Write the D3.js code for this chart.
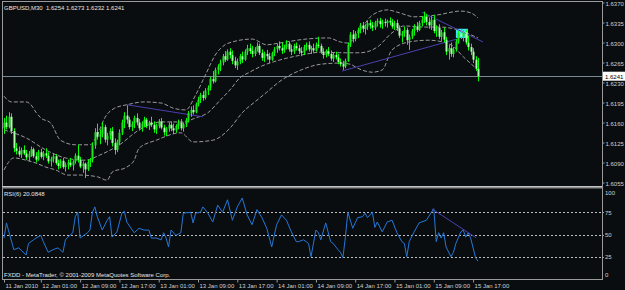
<!DOCTYPE html>
<html>
<head>
<meta charset="utf-8">
<script src="https://cdn.jsdelivr.net/npm/d3@7"></script>
<style>
  html, body { margin: 0; padding: 0; background: #0a0d10; }
  svg { display: block; font-family: "Liberation Sans", Arial, sans-serif; }
</style>
</head>
<body>
<svg id="chart" width="625" height="290"></svg>
<script>
// --- chart data ---
const symbolTitle = 'GBPUSD,M30  1.6254 1.6273 1.6232 1.6241';
const rsiTitle = 'RSI(6) 20.0848';
const footerText = 'FXDD - MetaTrader, \u00a9 2001-2009 MetaQuotes Software Corp.';
const firstBarTime = '2010-01-11 17:30';
const lastPrice = 1.6241;

// [open, high, low, close] for each 30 minute bar
const ohlc = [
  [1.6150,1.6168,1.6140,1.6160],[1.6160,1.6172,1.6148,1.6152],[1.6152,1.6178,1.6150,1.6170],[1.6170,1.6176,1.6140,1.6145],
  [1.6145,1.6150,1.6108,1.6115],[1.6115,1.6124,1.6104,1.6110],[1.6110,1.6118,1.6100,1.6104],[1.6104,1.6116,1.6098,1.6112],
  [1.6112,1.6120,1.6103,1.6106],[1.6106,1.6112,1.6094,1.6099],[1.6099,1.6110,1.6092,1.6105],[1.6105,1.6118,1.6100,1.6113],
  [1.6113,1.6116,1.6098,1.6101],[1.6101,1.6108,1.6090,1.6095],[1.6095,1.6112,1.6093,1.6108],[1.6108,1.6114,1.6097,1.6100],
  [1.6100,1.6110,1.6094,1.6106],[1.6106,1.6115,1.6098,1.6102],[1.6102,1.6108,1.6088,1.6092],[1.6092,1.6100,1.6083,1.6096],
  [1.6096,1.6106,1.6090,1.6101],[1.6101,1.6105,1.6086,1.6089],[1.6089,1.6095,1.6078,1.6084],[1.6084,1.6096,1.6080,1.6093],
  [1.6093,1.6098,1.6079,1.6082],[1.6082,1.6090,1.6074,1.6086],[1.6086,1.6095,1.6078,1.6090],[1.6090,1.6098,1.6082,1.6085],
  [1.6085,1.6094,1.6076,1.6092],[1.6092,1.6106,1.6088,1.6102],[1.6102,1.6121,1.6090,1.6095],[1.6095,1.6100,1.6080,1.6083],
  [1.6083,1.6092,1.6072,1.6088],[1.6088,1.6090,1.6063,1.6078],[1.6078,1.6095,1.6075,1.6091],[1.6091,1.6098,1.6082,1.6094],
  [1.6094,1.6125,1.6090,1.6120],[1.6120,1.6150,1.6114,1.6143],[1.6143,1.6158,1.6130,1.6135],[1.6135,1.6148,1.6122,1.6140],
  [1.6140,1.6160,1.6134,1.6152],[1.6152,1.6156,1.6125,1.6130],[1.6130,1.6142,1.6120,1.6137],[1.6137,1.6150,1.6130,1.6145],
  [1.6145,1.6152,1.6118,1.6124],[1.6124,1.6132,1.6104,1.6112],[1.6112,1.6130,1.6108,1.6126],[1.6126,1.6148,1.6120,1.6142],
  [1.6142,1.6165,1.6138,1.6160],[1.6160,1.6178,1.6150,1.6172],[1.6172,1.6190,1.6158,1.6165],[1.6165,1.6170,1.6148,1.6152],
  [1.6152,1.6162,1.6145,1.6158],[1.6158,1.6172,1.6150,1.6168],[1.6168,1.6176,1.6155,1.6160],[1.6160,1.6166,1.6146,1.6150],
  [1.6150,1.6162,1.6144,1.6158],[1.6158,1.6170,1.6152,1.6165],[1.6165,1.6168,1.6150,1.6154],[1.6154,1.6163,1.6147,1.6160],
  [1.6160,1.6170,1.6152,1.6156],[1.6156,1.6162,1.6142,1.6148],[1.6148,1.6158,1.6140,1.6154],[1.6154,1.6166,1.6150,1.6162],
  [1.6162,1.6168,1.6148,1.6151],[1.6151,1.6156,1.6137,1.6143],[1.6143,1.6152,1.6136,1.6149],[1.6149,1.6160,1.6144,1.6156],
  [1.6156,1.6162,1.6145,1.6150],[1.6150,1.6158,1.6140,1.6146],[1.6146,1.6157,1.6142,1.6154],[1.6154,1.6165,1.6148,1.6160],
  [1.6160,1.6166,1.6146,1.6150],[1.6150,1.6160,1.6144,1.6157],[1.6157,1.6168,1.6152,1.6164],[1.6164,1.6180,1.6160,1.6176],
  [1.6176,1.6188,1.6170,1.6182],[1.6182,1.6190,1.6174,1.6178],[1.6178,1.6195,1.6176,1.6192],[1.6192,1.6205,1.6188,1.6200],
  [1.6200,1.6212,1.6194,1.6208],[1.6208,1.6215,1.6198,1.6203],[1.6203,1.6220,1.6200,1.6216],[1.6216,1.6225,1.6208,1.6221],
  [1.6221,1.6240,1.6216,1.6236],[1.6236,1.6250,1.6228,1.6232],[1.6232,1.6256,1.6230,1.6252],[1.6252,1.6262,1.6244,1.6258],
  [1.6258,1.6270,1.6250,1.6265],[1.6265,1.6280,1.6260,1.6276],[1.6276,1.6285,1.6266,1.6270],[1.6270,1.6288,1.6268,1.6284],
  [1.6284,1.6290,1.6272,1.6278],[1.6278,1.6286,1.6262,1.6268],[1.6268,1.6275,1.6255,1.6260],[1.6260,1.6272,1.6252,1.6266],
  [1.6266,1.6280,1.6262,1.6276],[1.6276,1.6284,1.6264,1.6270],[1.6270,1.6288,1.6268,1.6284],[1.6284,1.6296,1.6278,1.6290],
  [1.6290,1.6298,1.6280,1.6285],[1.6285,1.6294,1.6274,1.6280],[1.6280,1.6292,1.6276,1.6288],[1.6288,1.6300,1.6284,1.6294],
  [1.6294,1.6298,1.6278,1.6282],[1.6282,1.6288,1.6268,1.6273],[1.6273,1.6284,1.6266,1.6280],[1.6280,1.6287,1.6270,1.6276],
  [1.6276,1.6282,1.6264,1.6270],[1.6270,1.6284,1.6268,1.6281],[1.6281,1.6292,1.6276,1.6288],[1.6288,1.6298,1.6282,1.6294],
  [1.6294,1.6302,1.6286,1.6290],[1.6290,1.6300,1.6280,1.6286],[1.6286,1.6296,1.6282,1.6292],[1.6292,1.6304,1.6288,1.6298],
  [1.6298,1.6302,1.6284,1.6288],[1.6288,1.6296,1.6278,1.6284],[1.6284,1.6298,1.6280,1.6294],[1.6294,1.6300,1.6286,1.6290],
  [1.6290,1.6296,1.6280,1.6285],[1.6285,1.6292,1.6276,1.6282],[1.6282,1.6296,1.6278,1.6292],[1.6292,1.6300,1.6286,1.6296],
  [1.6296,1.6302,1.6284,1.6288],[1.6288,1.6294,1.6280,1.6290],[1.6290,1.6298,1.6282,1.6286],[1.6286,1.6300,1.6284,1.6296],
  [1.6296,1.6310,1.6290,1.6294],[1.6294,1.6298,1.6280,1.6284],[1.6284,1.6290,1.6272,1.6278],[1.6278,1.6288,1.6274,1.6285],
  [1.6285,1.6292,1.6276,1.6280],[1.6280,1.6286,1.6268,1.6272],[1.6272,1.6282,1.6266,1.6278],[1.6278,1.6284,1.6270,1.6274],
  [1.6274,1.6280,1.6262,1.6266],[1.6266,1.6272,1.6258,1.6262],[1.6262,1.6268,1.6252,1.6258],[1.6258,1.6272,1.6255,1.6268],
  [1.6268,1.6300,1.6266,1.6296],[1.6296,1.6318,1.6292,1.6314],[1.6314,1.6322,1.6300,1.6306],[1.6306,1.6320,1.6302,1.6316],
  [1.6316,1.6326,1.6308,1.6322],[1.6322,1.6334,1.6316,1.6330],[1.6330,1.6336,1.6318,1.6324],[1.6324,1.6332,1.6314,1.6328],
  [1.6328,1.6338,1.6322,1.6334],[1.6334,1.6340,1.6324,1.6330],[1.6330,1.6336,1.6320,1.6326],[1.6326,1.6338,1.6322,1.6335],
  [1.6335,1.6342,1.6328,1.6338],[1.6338,1.6343,1.6326,1.6332],[1.6332,1.6340,1.6324,1.6336],[1.6336,1.6342,1.6328,1.6334],
  [1.6334,1.6340,1.6326,1.6338],[1.6338,1.6344,1.6330,1.6335],[1.6335,1.6341,1.6324,1.6328],[1.6328,1.6338,1.6322,1.6334],
  [1.6334,1.6340,1.6320,1.6325],[1.6325,1.6330,1.6308,1.6312],[1.6312,1.6320,1.6300,1.6316],[1.6316,1.6328,1.6310,1.6322],
  [1.6322,1.6326,1.6296,1.6304],[1.6304,1.6314,1.6287,1.6310],[1.6310,1.6324,1.6306,1.6320],[1.6320,1.6332,1.6312,1.6328],
  [1.6328,1.6336,1.6318,1.6322],[1.6322,1.6338,1.6320,1.6334],[1.6334,1.6346,1.6328,1.6340],[1.6340,1.6354,1.6334,1.6345],
  [1.6345,1.6350,1.6330,1.6336],[1.6336,1.6344,1.6324,1.6330],[1.6330,1.6346,1.6322,1.6340],[1.6340,1.6348,1.6316,1.6320],
  [1.6320,1.6330,1.6310,1.6326],[1.6326,1.6332,1.6306,1.6310],[1.6310,1.6322,1.6302,1.6318],[1.6318,1.6326,1.6300,1.6305],
  [1.6305,1.6310,1.6278,1.6284],[1.6284,1.6296,1.6270,1.6290],[1.6290,1.6300,1.6275,1.6280],[1.6280,1.6292,1.6274,1.6288],
  [1.6288,1.6306,1.6284,1.6302],[1.6302,1.6320,1.6298,1.6316],[1.6316,1.6324,1.6306,1.6310],[1.6310,1.6322,1.6302,1.6318],
  [1.6318,1.6322,1.6296,1.6300],[1.6300,1.6312,1.6286,1.6292],[1.6292,1.6298,1.6278,1.6284],[1.6284,1.6290,1.6264,1.6270],
  [1.6270,1.6276,1.6250,1.6254],[1.6254,1.6273,1.6232,1.6241]
];

// Bollinger bands, [bar index, price]
const bbUpper = [
  [0,1.6206],[3,1.6196],[9,1.6196],[11,1.6191],[13,1.6178],[15,1.6168],[19,1.6159],[23,1.6129],[29,1.6121],
  [35,1.6121],[38,1.6138],[41,1.6168],[45,1.6185],[50,1.6191],[57,1.6196],[64,1.6194],[69,1.6185],[74,1.6182],
  [78,1.6208],[82,1.6243],[86,1.6278],[90,1.6296],[93,1.6301],[101,1.6306],[107,1.6296],[112,1.6299],[123,1.6306],
  [132,1.6308],[137,1.6301],[140,1.6299],[145,1.6322],[150,1.6348],[156,1.6357],[161,1.6352],[167,1.6345],
  [176,1.6348],[186,1.6355],[190,1.6352],[193,1.6343]
];
const bbMiddle = [
  [0,1.6147],[9,1.6133],[17,1.6112],[25,1.6098],[33,1.6094],[39,1.6103],[47,1.6121],[55,1.6147],[64,1.6161],
  [73,1.6161],[78,1.6168],[83,1.6177],[88,1.6199],[92,1.6217],[96,1.6238],[100,1.6248],[104,1.6257],[112,1.6269],
  [121,1.6278],[129,1.6283],[139,1.6282],[145,1.6282],[152,1.6292],[158,1.6317],[163,1.6329],[171,1.6327],
  [178,1.6327],[182,1.6325],[193,1.6308]
];
const bbLower = [
  [0,1.6077],[4,1.6098],[9,1.6094],[13,1.6089],[17,1.6082],[21,1.6077],[26,1.6068],[31,1.6068],[38,1.6065],
  [42,1.6059],[44,1.6073],[50,1.6082],[53,1.6094],[55,1.6115],[62,1.6129],[72,1.6142],[77,1.6126],[85,1.6129],
  [92,1.6150],[97,1.6177],[103,1.6199],[107,1.6213],[112,1.6231],[121,1.6252],[129,1.6262],[137,1.6264],
  [141,1.6262],[144,1.6255],[150,1.6248],[154,1.6252],[158,1.6287],[165,1.6301],[173,1.6304],[182,1.6296],
  [187,1.6275],[193,1.6252]
];

// RSI(6), [bar index, value]
const rsiPoints = [
  [0,46],[1,63],[4,33],[6,35],[9,27],[10,40],[12,44],[13,46],[15,49],[16,42],[18,30],[20,33],[22,35],[24,30],
  [25,44],[26,47],[28,52],[29,70],[30,75],[31,46],[34,52],[35,55],[36,75],[37,81],[38,70],[40,55],[42,66],[43,70],
  [44,47],[46,53],[48,74],[49,76],[50,64],[53,52],[55,57],[57,55],[59,55],[60,46],[62,46],[64,44],[65,52],[66,46],
  [67,36],[68,55],[70,49],[72,52],[73,74],[76,75],[77,63],[78,74],[80,75],[81,81],[83,74],[85,64],[87,83],[89,75],
  [91,89],[93,66],[95,81],[97,91],[99,72],[101,61],[103,78],[105,69],[107,57],[109,36],[111,61],[113,72],[115,66],
  [117,53],[119,42],[120,42],[122,44],[124,40],[125,25],[127,55],[128,52],[129,44],[131,63],[133,42],[134,40],
  [136,33],[137,30],[138,24],[139,47],[140,75],[142,57],[144,69],[146,70],[147,74],[148,69],[150,75],[151,58],
  [152,64],[154,53],[156,64],[158,66],[160,52],[162,42],[163,40],[164,25],[165,42],[167,53],[169,63],[172,66],
  [174,75],[175,79],[176,42],[177,52],[178,46],[179,52],[180,36],[182,25],[183,30],[184,40],[186,53],[187,55],
  [188,47],[189,52],[190,46],[192,24],[193,20.08]
];

// hand-drawn objects: trend lines [[bar, price], [bar, price]], rectangle
const trendLines = [
  [[137.6, 1.6250], [184.4, 1.6306]],
  [[170.2, 1.6353], [195.0, 1.6301]],
  [[50.1, 1.6191], [81.0, 1.6170]]
];
const rsiTrendLine = [[174.3, 78.7], [192.2, 46.4]];
const cyanBox = { from: 184.0, to: 188.9, top: 1.6324, bottom: 1.6308 };

const priceTicks = [1.6370, 1.6335, 1.6300, 1.6265, 1.6230, 1.6195, 1.6160, 1.6125, 1.6090, 1.6055];
const rsiLevels = [75, 50, 25];
const rsiTicks = [100, 75, 50, 25, 0];
const tickTimes = ['2010-01-11 17:30', '2010-01-12 01:00', '2010-01-12 09:00', '2010-01-12 17:00',
  '2010-01-13 01:00', '2010-01-13 09:00', '2010-01-13 17:00', '2010-01-14 01:00', '2010-01-14 09:00',
  '2010-01-14 17:00', '2010-01-15 01:00', '2010-01-15 09:00', '2010-01-15 17:00'];
const tickLabels = ['11 Jan 2010', '12 Jan 01:00', '12 Jan 09:00', '12 Jan 17:00', '13 Jan 01:00',
  '13 Jan 09:00', '13 Jan 17:00', '14 Jan 01:00', '14 Jan 09:00', '14 Jan 17:00', '15 Jan 01:00',
  '15 Jan 09:00', '15 Jan 17:00'];

// --- layout ---
const left = 3, right = 602;
const mainTop = 2, mainBottom = 186;
const rsiTop = 189, rsiBottom = 279;
const fontSize = '6px';
const textColor = '#cfcfcf';
const frameColor = '#9a9a9a';

const svg = d3.select('#chart');
svg.append('rect').attr('width', 625).attr('height', 290).attr('fill', '#0a0d10');

const parseTime = d3.timeParse('%Y-%m-%d %H:%M');
const t0 = parseTime(firstBarTime);
const barTime = i => new Date(t0.getTime() + i * 30 * 60000);

const x = d3.scaleTime()
    .domain([barTime(0), barTime(ohlc.length - 1)])
    .range([4, 478]);
const xb = i => x(barTime(i));

const y = d3.scaleLinear().domain([1.6055, 1.6370]).range([182.5, 2.5]);
const yr = d3.scaleLinear().domain([0, 100]).range([279, 190]);

// clip paths for the two panes
const defs = svg.append('defs');
defs.append('clipPath').attr('id', 'clip-main')
  .append('rect').attr('x', left).attr('y', mainTop).attr('width', right - left).attr('height', mainBottom - mainTop);
defs.append('clipPath').attr('id', 'clip-rsi')
  .append('rect').attr('x', left).attr('y', rsiTop).attr('width', right - left).attr('height', rsiBottom - rsiTop);

const main = svg.append('g').attr('clip-path', 'url(#clip-main)');
const rsiPane = svg.append('g').attr('clip-path', 'url(#clip-rsi)');

// current price line
main.append('line')
    .attr('x1', left).attr('x2', right)
    .attr('y1', Math.round(y(lastPrice)) + 0.5).attr('y2', Math.round(y(lastPrice)) + 0.5)
    .attr('stroke', '#7b8794').attr('stroke-width', 1);

// cyan rectangle object
main.append('rect')
    .attr('x', xb(cyanBox.from))
    .attr('y', y(cyanBox.top))
    .attr('width', xb(cyanBox.to) - xb(cyanBox.from))
    .attr('height', y(cyanBox.bottom) - y(cyanBox.top))
    .attr('fill', '#3ee6f2');

// Bollinger bands
const bandLine = d3.line().x(d => xb(d[0])).y(d => y(d[1])).curve(d3.curveMonotoneX);
[bbUpper, bbMiddle, bbLower].forEach(band => {
  main.append('path')
      .attr('d', bandLine(band))
      .attr('fill', 'none')
      .attr('stroke', '#a8a8a8')
      .attr('stroke-width', 0.9)
      .attr('stroke-dasharray', '4,2');
});

// trend lines
trendLines.forEach(tl => {
  main.append('line')
      .attr('x1', xb(tl[0][0])).attr('y1', y(tl[0][1]))
      .attr('x2', xb(tl[1][0])).attr('y2', y(tl[1][1]))
      .attr('stroke', '#4a3fae').attr('stroke-width', 1);
});

// candles
const candles = main.append('g').selectAll('g')
    .data(ohlc)
    .enter()
    .append('g');

candles.append('line')
    .attr('x1', (d, i) => Math.round(xb(i)) + 0.5)
    .attr('x2', (d, i) => Math.round(xb(i)) + 0.5)
    .attr('y1', d => y(d[1]))
    .attr('y2', d => y(d[2]))
    .attr('stroke', '#00ff00')
    .attr('stroke-width', 1);

candles.append('rect')
    .attr('x', (d, i) => Math.round(xb(i)) - 0.5)
    .attr('width', 2)
    .attr('y', d => y(Math.max(d[0], d[3])))
    .attr('height', d => Math.max(1, Math.abs(y(d[0]) - y(d[3]))))
    .attr('fill', d => d[3] >= d[0] ? '#1ee61e' : '#a8ffa8');

// RSI levels and line
rsiPane.selectAll('.level')
    .data(rsiLevels)
    .enter()
    .append('line')
    .attr('class', 'level')
    .attr('x1', left).attr('x2', right)
    .attr('y1', d => Math.round(yr(d)) + 0.5)
    .attr('y2', d => Math.round(yr(d)) + 0.5)
    .attr('stroke', '#c0c0c0')
    .attr('stroke-width', 1)
    .attr('stroke-dasharray', '2,2');

rsiPane.append('path')
    .attr('d', d3.line().x(d => xb(d[0])).y(d => yr(d[1]))(rsiPoints))
    .attr('fill', 'none')
    .attr('stroke', '#2577d6')
    .attr('stroke-width', 1);

rsiPane.append('line')
    .attr('x1', xb(rsiTrendLine[0][0])).attr('y1', yr(rsiTrendLine[0][1]))
    .attr('x2', xb(rsiTrendLine[1][0])).attr('y2', yr(rsiTrendLine[1][1]))
    .attr('stroke', '#4a3fae').attr('stroke-width', 1);

// frame
svg.append('line').attr('x1', 2).attr('x2', right).attr('y1', 1.5).attr('y2', 1.5)
    .attr('stroke', frameColor);
svg.append('line').attr('x1', 2.5).attr('x2', 2.5).attr('y1', 1).attr('y2', rsiBottom)
    .attr('stroke', frameColor);
svg.append('rect').attr('x', 2).attr('y', mainBottom).attr('width', right - 2).attr('height', 2.5)
    .attr('fill', '#8c8c8c');
svg.append('line').attr('x1', 2).attr('x2', right).attr('y1', mainBottom + 0.5).attr('y2', mainBottom + 0.5)
    .attr('stroke', '#c4c4c4');

// price axis
const priceAxis = svg.append('g')
    .attr('transform', `translate(${right + 0.5},0)`)
    .call(d3.axisRight(y).tickValues(priceTicks).tickSize(2).tickPadding(1).tickFormat(d3.format('.4f')));
priceAxis.select('.domain').remove();
priceAxis.selectAll('line').attr('stroke', frameColor);
priceAxis.selectAll('text')
    .attr('fill', textColor)
    .style('font-size', fontSize)
    .attr('dy', '0.45em');

// current price label
const lastY = y(lastPrice);
svg.append('rect')
    .attr('x', right + 1).attr('y', lastY - 4.5)
    .attr('width', 22).attr('height', 9)
    .attr('fill', '#ffffff');
svg.append('text')
    .attr('x', right + 3).attr('y', lastY + 2.3)
    .attr('fill', '#000000')
    .style('font-size', fontSize)
    .text(d3.format('.4f')(lastPrice));

// RSI axis labels
svg.append('g').selectAll('text')
    .data(rsiTicks)
    .enter()
    .append('text')
    .attr('x', right + 3)
    .attr('y', d => Math.min(Math.max(yr(d) + 2.5, 194.5), 277))
    .attr('fill', textColor)
    .style('font-size', fontSize)
    .text(d => d);
svg.append('g').selectAll('line')
    .data(rsiLevels)
    .enter()
    .append('line')
    .attr('x1', right).attr('x2', right + 2)
    .attr('y1', d => Math.round(yr(d)) + 0.5).attr('y2', d => Math.round(yr(d)) + 0.5)
    .attr('stroke', frameColor);

// right axis line
svg.append('line').attr('x1', right + 0.5).attr('x2', right + 0.5).attr('y1', 1).attr('y2', rsiBottom + 1)
    .attr('stroke', frameColor);

// time axis
const tickDates = tickTimes.map(parseTime);
const timeAxis = svg.append('g')
    .attr('transform', `translate(0,${rsiBottom + 0.5})`)
    .call(d3.axisBottom(x).tickValues(tickDates).tickSize(3).tickPadding(1)
      .tickFormat((d, i) => tickLabels[i]));
timeAxis.select('.domain').remove();
timeAxis.selectAll('line').attr('stroke', frameColor);
timeAxis.selectAll('text')
    .attr('fill', textColor)
    .attr('text-anchor', 'start')
    .attr('x', 1)
    .style('font-size', fontSize);
svg.append('line').attr('x1', 2).attr('x2', right + 1).attr('y1', rsiBottom + 0.5).attr('y2', rsiBottom + 0.5)
    .attr('stroke', frameColor);

// titles
svg.append('text')
    .attr('x', 4).attr('y', 9.5)
    .attr('fill', '#e6e6e6')
    .style('font-size', fontSize)
    .style('white-space', 'pre')
    .text(symbolTitle);
svg.append('text')
    .attr('x', 4).attr('y', 196)
    .attr('fill', '#e6e6e6')
    .style('font-size', fontSize)
    .text(rsiTitle);
svg.append('text')
    .attr('x', 4).attr('y', 276.5)
    .attr('fill', '#e6e6e6')
    .style('font-size', fontSize)
    .text(footerText);
</script>
</body>
</html>
